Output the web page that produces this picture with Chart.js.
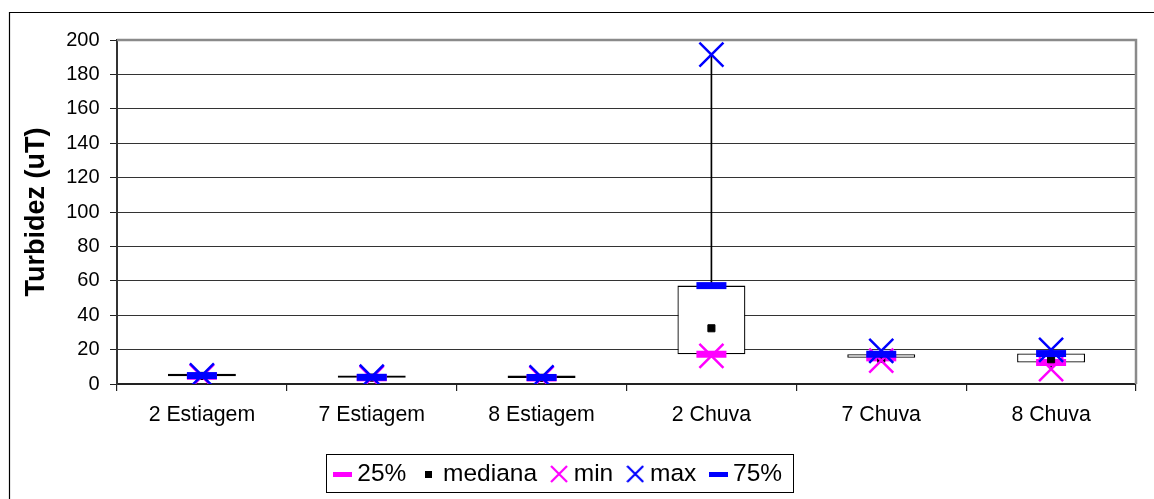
<!DOCTYPE html>
<html><head><meta charset="utf-8">
<script src="https://cdn.jsdelivr.net/npm/chart.js@4.4.0/dist/chart.umd.min.js"></script>
<style>html,body{margin:0;padding:0;background:#fff;overflow:hidden}#wrap{width:1154px;height:499px;position:relative}</style>
</head><body><div id="wrap"><canvas id="c" width="1154" height="499"></canvas></div>
<script>
const categories = ['2 Estiagem', '7 Estiagem', '8 Estiagem', '2 Chuva', '7 Chuva', '8 Chuva'];
const q1Values = [4.5, 3.6, 3.5, 17.3, 15.2, 12.5];
const medianValues = [4.7, 3.7, 3.6, 32.4, 14.6, 14.4];
const minValues = [4.4, 3.5, 3.3, 16.3, 13.6, 8.6];
const maxValues = [5.0, 4.2, 3.9, 191.5, 19.3, 19.8];
const q3Values = [4.9, 3.9, 3.8, 57.2, 17.3, 17.7];
const seriesNames = ['25%', 'mediana', 'min', 'max', '75%'];
const yTitle = 'Turbidez (uT)';

const FONT = "'Liberation Sans', Arial, sans-serif";
const PINK = '#FF00FF', BLUE = '#0000FF', BLACK = '#000000';

function makeIcon(kind, color) {
  const c = document.createElement('canvas');
  const g = c.getContext('2d');
  if (kind === 'dash') { c.width = 19; c.height = 5; g.fillStyle = color; g.fillRect(0, 0, 19, 5); }
  else if (kind === 'square') { c.width = 7; c.height = 7; g.fillStyle = color; g.fillRect(0, 0, 7, 7); }
  else { c.width = 18; c.height = 18; g.strokeStyle = color; g.lineWidth = 2.2;
    g.beginPath(); g.moveTo(1, 1); g.lineTo(17, 17); g.moveTo(17, 1); g.lineTo(1, 17); g.stroke(); }
  return c;
}
const legendIcons = [makeIcon('dash', PINK), makeIcon('square', BLACK), makeIcon('x', PINK), makeIcon('x', BLUE), makeIcon('dash', BLUE)];

const boxData = categories.map((_, i) => [q1Values[i], q3Values[i]]);
const whiskerData = categories.map((_, i) => [minValues[i], maxValues[i]]);

const framePlugin = {
  id: 'frame',
  beforeDraw(chart) {
    const ctx = chart.ctx;
    ctx.save();
    ctx.fillStyle = '#fff';
    ctx.fillRect(0, 0, chart.width, chart.height);
    ctx.strokeStyle = '#000'; ctx.lineWidth = 1.2;
    ctx.beginPath(); ctx.moveTo(9.5, chart.height); ctx.lineTo(9.5, 12.5); ctx.lineTo(chart.width, 12.5); ctx.stroke();
    ctx.restore();
  },
  beforeDatasetsDraw(chart) {
    const a = chart.chartArea, ctx = chart.ctx;
    ctx.save();
    ctx.strokeStyle = '#8a8a8a'; ctx.lineWidth = 2.5;
    ctx.beginPath(); ctx.moveTo(a.left, a.top); ctx.lineTo(a.right, a.top); ctx.lineTo(a.right, a.bottom); ctx.stroke();
    ctx.restore();
  },
  afterLayout(chart) {
    const lg = chart.legend;
    const pad = lg.options.labels.padding;
    lg.left = 340 - pad;
    lg.right = chart.width + 400;
    const h = lg.height;
    lg.top = 442.25;
    lg.bottom = lg.top + h;
  },
  afterDraw(chart) {
    const lg = chart.legend, ctx = chart.ctx;
    const pad = lg.options.labels.padding;
    const x0 = lg.left + pad;
    const right = x0 + lg.lineWidths[0] - pad + 11;
    ctx.save();
    ctx.strokeStyle = '#000'; ctx.lineWidth = 1;
    ctx.strokeRect(Math.round(x0 - 14) + 0.5, 454.5, Math.round(right - (x0 - 14)), 38);
    ctx.restore();
  }
};

new Chart(document.getElementById('c'), {
  type: 'bar',
  data: {
    labels: categories,
    datasets: [
      { type: 'line', label: seriesNames[0], data: q1Values, showLine: false, order: 5,
        pointStyle: 'line', pointRadius: 15, pointBorderWidth: 7, pointBorderColor: PINK, pointBackgroundColor: PINK, borderColor: PINK },
      { type: 'line', label: seriesNames[1], data: medianValues, showLine: false, order: 4,
        pointStyle: 'rect', pointRadius: 5, pointBorderWidth: 1, pointBorderColor: BLACK, pointBackgroundColor: BLACK, borderColor: BLACK },
      { type: 'line', label: seriesNames[2], data: minValues, showLine: false, order: 3,
        pointStyle: 'crossRot', pointRadius: 17, pointBorderWidth: 2.5, pointBorderColor: PINK, pointBackgroundColor: PINK, borderColor: PINK },
      { type: 'line', label: seriesNames[3], data: maxValues, showLine: false, order: 2,
        pointStyle: 'crossRot', pointRadius: 17, pointBorderWidth: 2.5, pointBorderColor: BLUE, pointBackgroundColor: BLUE, borderColor: BLUE },
      { type: 'line', label: seriesNames[4], data: q3Values, showLine: false, order: 1,
        pointStyle: 'line', pointRadius: 15, pointBorderWidth: 7, pointBorderColor: BLUE, pointBackgroundColor: BLUE, borderColor: BLUE },
      { type: 'bar', label: 'box', data: boxData, order: 9, grouped: false,
        backgroundColor: '#ffffff', borderColor: '#000', borderWidth: 1.3, borderSkipped: false,
        categoryPercentage: 1, barPercentage: 0.40, minBarLength: 2.4 },
      { type: 'bar', label: 'whisker', data: whiskerData, order: 10, grouped: false,
        backgroundColor: '#000', borderWidth: 0, barThickness: 1 }
    ]
  },
  options: {
    responsive: false,
    animation: false,
    events: [],
    layout: { autoPadding: false, padding: { left: 10, right: 18, top: 40, bottom: 0 } },
    plugins: {
      tooltip: { enabled: false },
      legend: {
        position: 'bottom',
        align: 'start',
        labels: {
          usePointStyle: true,
          boxWidth: 5,
          padding: 19.5,
          color: '#000',
          font: { family: FONT, size: 24.5 },
          generateLabels: () => seriesNames.map((t, i) => ({
            text: t, pointStyle: legendIcons[i], fillStyle: 'transparent', strokeStyle: 'transparent',
            lineWidth: 0, hidden: false, datasetIndex: i, fontColor: '#000'
          }))
        }
      }
    },
    scales: {
      x: {
        offset: true,
        grid: { display: true, offset: true, drawOnChartArea: false, drawTicks: true, tickLength: 7, color: '#222', lineWidth: 1.2 },
        border: { display: true, color: '#222', width: 2 },
        ticks: { color: '#000', font: { family: FONT, size: 21.3 }, padding: 11, maxRotation: 0, autoSkip: false },
        afterFit: s => { s.height = 61; s.paddingLeft = 0; s.paddingRight = 0; }
      },
      y: {
        min: 0, max: 200,
        grid: {
          drawTicks: true, tickLength: 7, tickColor: '#222',
          color: c => (c.tick && (c.tick.value === 200 || c.tick.value === 0)) ? 'rgba(0,0,0,0)' : '#333',
          lineWidth: 1
        },
        border: { display: true, color: '#333', width: 2 },
        ticks: { stepSize: 20, color: '#000', font: { family: FONT, size: 20 }, padding: 10.5 },
        title: { display: true, text: yTitle, color: '#000', font: { family: FONT, size: 27, weight: 'bold' }, padding: { top: 10.8, bottom: 0 } },
        afterFit: s => { s.width = 107; }
      }
    }
  },
  plugins: [framePlugin]
});
</script>
</body></html>
